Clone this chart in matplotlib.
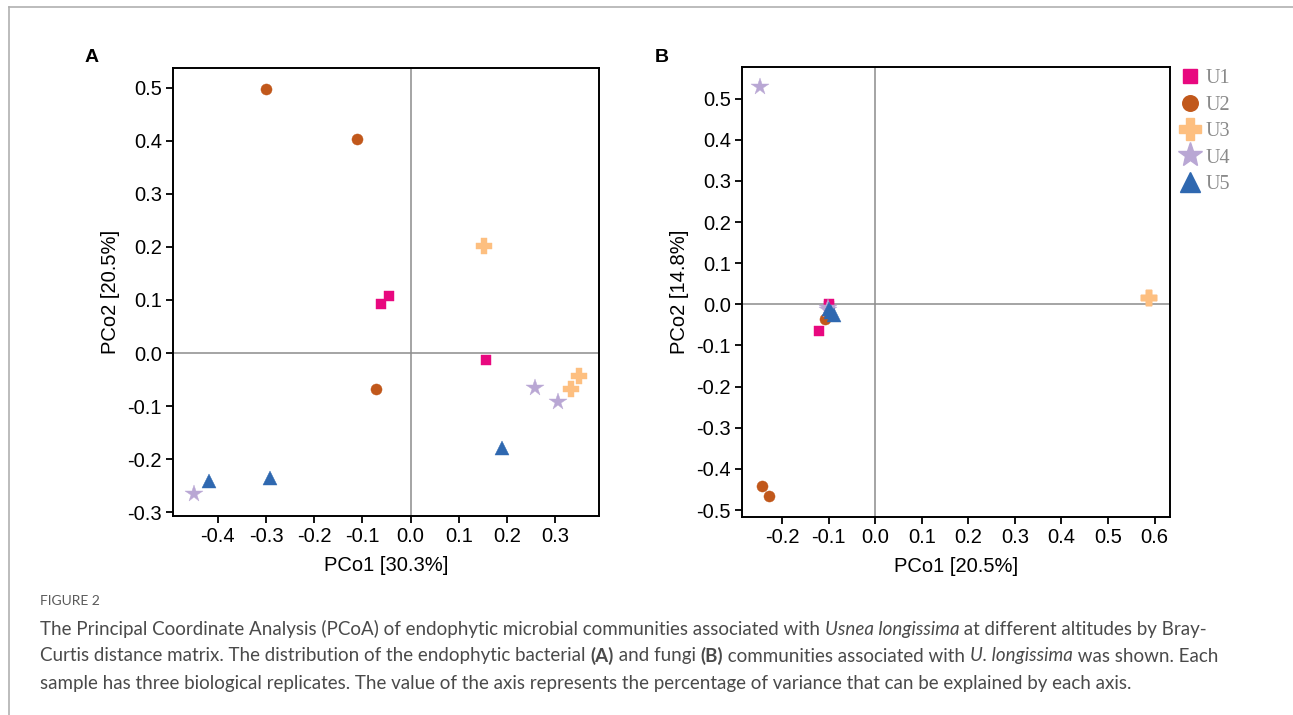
import matplotlib
matplotlib.use("Agg")
import matplotlib.pyplot as plt
from matplotlib.lines import Line2D
import numpy as np

plt.rcParams['font.family'] = ['Liberation Sans', 'DejaVu Sans']

# sample groups
groups = ['U1', 'U2', 'U3', 'U4', 'U5']
colors = ['#E8087F', '#C1581B', '#FDBF80', '#B9A7D4', '#2F68B0']
markers = ['s', 'o', 'P', '*', '^']
msizes = [7.5, 8, 11, 13, 10]

# panel A: bacterial communities (PCo1, PCo2)
a_x = {'U1': [-0.062, -0.045, 0.156],
       'U2': [-0.301, -0.112, -0.071],
       'U3': [0.152, 0.333, 0.350],
       'U4': [-0.450, 0.259, 0.306],
       'U5': [-0.419, -0.291, 0.190]}
a_y = {'U1': [0.092, 0.107, -0.013],
       'U2': [0.498, 0.403, -0.068],
       'U3': [0.202, -0.068, -0.043],
       'U4': [-0.266, -0.066, -0.093],
       'U5': [-0.241, -0.236, -0.178]}

# panel B: fungal communities
b_x = {'U1': [-0.099, -0.121, -0.100],
       'U2': [-0.243, -0.227, -0.107],
       'U3': [0.588, 0.588, 0.588],
       'U4': [-0.247, -0.101, -0.102],
       'U5': [-0.099, -0.088, -0.095]}
b_y = {'U1': [0.000, -0.064, -0.004],
       'U2': [-0.441, -0.466, -0.036],
       'U3': [0.016, 0.016, 0.016],
       'U4': [0.529, -0.013, -0.010],
       'U5': [-0.011, -0.026, -0.018]}

a_xticks = [-0.4, -0.3, -0.2, -0.1, 0.0, 0.1, 0.2, 0.3]
a_yticks = [-0.3, -0.2, -0.1, 0.0, 0.1, 0.2, 0.3, 0.4, 0.5]
b_xticks = [-0.2, -0.1, 0.0, 0.1, 0.2, 0.3, 0.4, 0.5, 0.6]
b_yticks = [-0.5, -0.4, -0.3, -0.2, -0.1, 0.0, 0.1, 0.2, 0.3, 0.4, 0.5]

W, H = 1293, 715
fig = plt.figure(figsize=(W / 100, H / 100), dpi=100)


def px_axes(l, t, r, b):
    return fig.add_axes([l / W, 1 - b / H, (r - l) / W, (b - t) / H])


def style(ax, xt, yt, xlabel, ylabel):
    ax.axhline(0, color='#8c8c8c', lw=1.1, zorder=1)
    ax.axvline(0, color='#8c8c8c', lw=1.1, zorder=1)
    ax.set_xticks(xt)
    ax.set_yticks(yt)
    ax.set_xticklabels(['%.1f' % v for v in xt])
    ax.set_yticklabels(['%.1f' % v for v in yt])
    ax.tick_params(direction='out', length=5, width=1.3, labelsize=14.5, pad=3)
    for s in ax.spines.values():
        s.set_linewidth(1.4)
    ax.set_xlabel(xlabel, fontsize=14.5, labelpad=7)
    ax.set_ylabel(ylabel, fontsize=14.5, labelpad=5)


def draw(ax, xs, ys):
    for g, c, m, ms in zip(groups, colors, markers, msizes):
        ax.plot(xs[g], ys[g], linestyle='none', marker=m, color=c,
                markersize=ms, markeredgewidth=0.3, zorder=3, label=g)


axA = px_axes(173, 68, 599, 516)
draw(axA, a_x, a_y)
axA.set_xlim(-0.493, 0.391)
axA.set_ylim(-0.307, 0.537)
style(axA, a_xticks, a_yticks, 'PCo1 [30.3%]', 'PCo2 [20.5%]')

axB = px_axes(742, 67, 1170, 517)
draw(axB, b_x, b_y)
axB.set_xlim(-0.286, 0.633)
axB.set_ylim(-0.517, 0.577)
style(axB, b_xticks, b_yticks, 'PCo1 [20.5%]', 'PCo2 [14.8%]')

handles = [Line2D([], [], linestyle='none', marker=m, color=c, markersize=ms * 1.4)
           for c, m, ms in zip(colors, markers, msizes)]
leg = axB.legend(handles, groups, loc='upper left', bbox_to_anchor=(0.968, 1.035),
                 frameon=False, handletextpad=0.05, labelspacing=0.36,
                 prop={'family': 'Liberation Serif', 'size': 14.5}, handlelength=1.5)
for t in leg.get_texts():
    t.set_color('#8a8a8a')

fig.text(85 / W, 1 - 57 / H, 'A', fontsize=14, fontweight='bold', va='center')
fig.text(655 / W, 1 - 57 / H, 'B', fontsize=14, fontweight='bold', va='center')

# card border
fig.add_artist(Line2D([9 / W, 1], [1 - 7 / H, 1 - 7 / H], color='#b0b0b0', lw=1.2))
fig.add_artist(Line2D([9 / W, 9 / W], [0, 1 - 7 / H], color='#b0b0b0', lw=1.2))

# caption
cap_font = ['Lato', 'DejaVu Sans']
cap_color = '#4a4a4a'
fig.text(40 / W, 1 - 601 / H, 'FIGURE 2', fontsize=10, color='#5a5a5a',
         family=cap_font, va='center')

lines = [
    [('The Principal Coordinate Analysis (PCoA) of endophytic microbial communities associated with ', 'normal', 'normal'),
     ('Usnea longissima', 'italic', 'normal'),
     (' at different altitudes by Bray-', 'normal', 'normal')],
    [('Curtis distance matrix. The distribution of the endophytic bacterial ', 'normal', 'normal'),
     ('(A)', 'normal', 'bold'),
     (' and fungi ', 'normal', 'normal'),
     ('(B)', 'normal', 'bold'),
     (' communities associated with ', 'normal', 'normal'),
     ('U. longissima', 'italic', 'normal'),
     (' was shown. Each', 'normal', 'normal')],
    [('sample has three biological replicates. The value of the axis represents the percentage of variance that can be explained by each axis.', 'normal', 'normal')],
]
line_y = [629, 656, 683]

fig.canvas.draw()
renderer = fig.canvas.get_renderer()
for segs, ly in zip(lines, line_y):
    x = 40
    for txt, st, wt in segs:
        t = fig.text(x / W, 1 - ly / H, txt, fontsize=13.5, color=cap_color,
                     family=cap_font, style=st, weight=wt, va='center')
        bb = t.get_window_extent(renderer=renderer)
        x += bb.width

fig.savefig('out.png', dpi=100)
